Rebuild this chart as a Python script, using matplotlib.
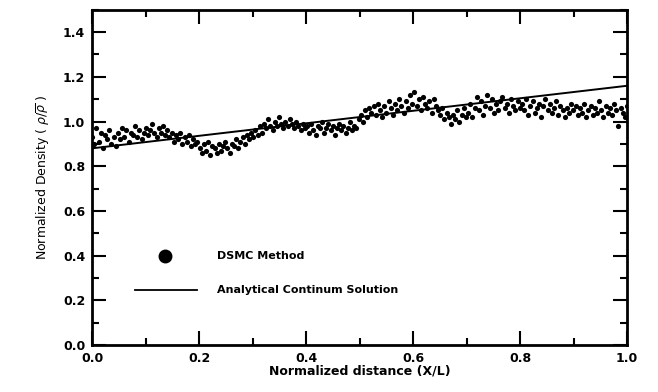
import numpy as np
import matplotlib
matplotlib.use("Agg")
import matplotlib.pyplot as plt
from matplotlib.ticker import MultipleLocator

# DSMC density samples, 25 per 0.1 of X/L
dsmc_density = [
    0.93, 0.90, 0.97, 0.91, 0.95, 0.88, 0.94, 0.92, 0.96, 0.90, 0.93, 0.89, 0.95, 0.92, 0.97, 0.93, 0.96, 0.91, 0.95, 0.94, 0.98, 0.93, 0.96, 0.92, 0.95,
    0.97, 0.94, 0.96, 0.99, 0.95, 0.93, 0.97, 0.95, 0.98, 0.94, 0.96, 0.93, 0.95, 0.91, 0.94, 0.92, 0.95, 0.90, 0.93, 0.91, 0.94, 0.89, 0.92, 0.90, 0.91,
    0.88, 0.86, 0.90, 0.87, 0.91, 0.85, 0.89, 0.88, 0.86, 0.90, 0.87, 0.89, 0.91, 0.88, 0.86, 0.90, 0.89, 0.92, 0.88, 0.91, 0.93, 0.90, 0.94, 0.92, 0.95,
    0.93, 0.96, 0.94, 0.98, 0.95, 0.99, 0.97, 1.01, 0.98, 0.96, 1.00, 0.98, 1.02, 0.99, 0.97, 1.00, 0.98, 1.01, 0.99, 0.97, 1.00, 0.98, 0.96, 0.99, 0.97,
    0.98, 0.95, 0.99, 0.96, 0.94, 0.98, 0.97, 1.00, 0.95, 0.97, 0.99, 0.96, 0.98, 0.94, 0.97, 0.99, 0.96, 0.98, 0.95, 0.97, 1.00, 0.96, 0.98, 0.97, 1.01,
    1.03, 1.00, 1.05, 1.02, 1.06, 1.04, 1.07, 1.03, 1.08, 1.05, 1.02, 1.07, 1.04, 1.09, 1.06, 1.03, 1.08, 1.05, 1.10, 1.07, 1.04, 1.09, 1.06, 1.12, 1.08,
    1.13, 1.07, 1.10, 1.05, 1.11, 1.08, 1.06, 1.09, 1.04, 1.10, 1.07, 1.05, 1.03, 1.06, 1.01, 1.04, 1.02, 0.99, 1.03, 1.01, 1.05, 1.00, 1.03, 1.06, 1.02,
    1.04, 1.08, 1.02, 1.06, 1.11, 1.05, 1.09, 1.03, 1.07, 1.12, 1.06, 1.10, 1.04, 1.08, 1.05, 1.09, 1.11, 1.06, 1.08, 1.04, 1.10, 1.07, 1.05, 1.09, 1.06,
    1.08, 1.05, 1.10, 1.03, 1.07, 1.09, 1.04, 1.06, 1.08, 1.02, 1.07, 1.10, 1.05, 1.08, 1.04, 1.06, 1.09, 1.03, 1.07, 1.05, 1.02, 1.06, 1.04, 1.08, 1.05,
    1.07, 1.03, 1.06, 1.04, 1.08, 1.02, 1.05, 1.07, 1.03, 1.06, 1.04, 1.09, 1.05, 1.02, 1.07, 1.04, 1.06, 1.03, 1.08, 1.05, 0.98, 1.06, 1.04, 1.02, 1.07,
]
dsmc_x = np.linspace(0.0, 1.0, len(dsmc_density))

# analytical continuum solution
theory_x = [0.0, 1.0]
theory_density = [0.88, 1.16]

fig = plt.figure(figsize=(6.58, 3.92), dpi=100)
ax = fig.add_axes([0.14, 0.12, 0.813, 0.855])

ax.scatter(dsmc_x, dsmc_density, s=14, c='k', linewidths=0)
ax.plot(theory_x, theory_density, color='k', lw=1.4)

# legend drawn by hand inside the axes
ax.plot([0.136], [0.40], 'o', color='k', markersize=9)
ax.text(0.234, 0.40, 'DSMC Method', fontsize=8, fontweight='bold', va='center')
ax.plot([0.08, 0.196], [0.246, 0.246], color='k', lw=1.3)
ax.text(0.234, 0.246, 'Analytical Continum Solution', fontsize=8, fontweight='bold', va='center')

ax.set_xlim(0, 1.0)
ax.set_ylim(0, 1.5)
ax.xaxis.set_minor_locator(MultipleLocator(0.1))
ax.yaxis.set_minor_locator(MultipleLocator(0.1))
ax.set_xticks(np.arange(0, 1.01, 0.2))
ax.set_yticks(np.arange(0, 1.41, 0.2))
ax.set_xticklabels(['%.1f' % v for v in np.arange(0, 1.01, 0.2)])
ax.set_yticklabels(['%.1f' % v for v in np.arange(0, 1.41, 0.2)])

ax.tick_params(which='both', direction='in', top=True, right=True, width=1.5,
               labelsize=9, pad=5)
ax.tick_params(which='major', length=10)
ax.tick_params(which='minor', length=5)
for lab in ax.get_xticklabels() + ax.get_yticklabels():
    lab.set_fontweight('bold')
for sp in ax.spines.values():
    sp.set_linewidth(2)

ax.set_xlabel('Normalized distance (X/L)', fontsize=9, fontweight='bold', labelpad=0)
ax.set_ylabel(r'Normalized Density ( $\rho/\overline{\rho}$ )', fontsize=9, labelpad=8)

fig.savefig('out.png', dpi=100)
